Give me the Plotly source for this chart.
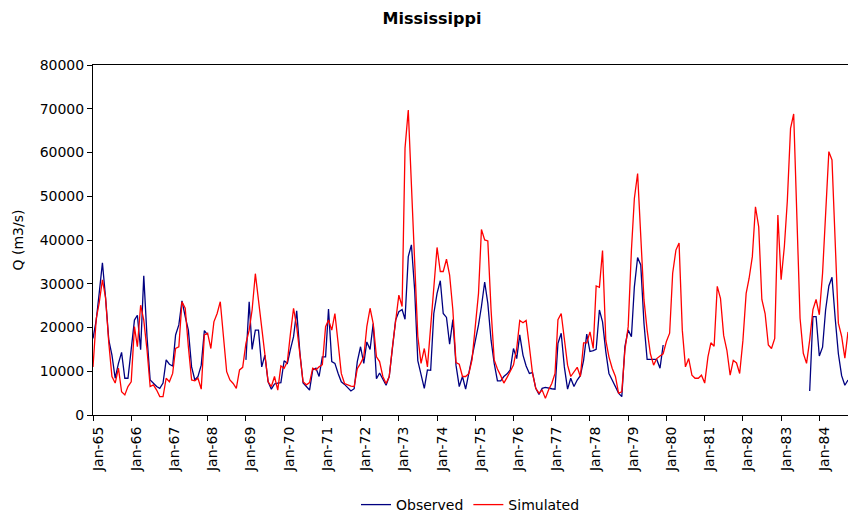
import pandas as pd
import plotly.graph_objects as go

# Monthly discharge of the Mississippi, Jan 1965 onwards (m3/s)
start_month = "1965-01-01"

simulated = [
    11000, 22000, 25600, 30900, 26800, 16400, 8800, 7300, 10700, 5300, 4600, 6500,      # 1965
    7600, 20200, 15600, 25100, 21700, 14900, 6500, 6900, 5700, 4200, 4200, 8400,        # 1966
    7600, 9500, 15200, 15600, 25900, 24400, 15600, 8000, 7800, 8400, 5900, 18300,       # 1967
    18700, 15200, 21300, 23200, 25900, 17900, 9900, 8000, 7200, 6100, 10300, 10900,     # 1968
    16400, 19400, 24000, 32300, 26300, 19400, 12900, 7600, 6500, 8800, 5700, 11200,     # 1969
    10700, 12200, 18300, 24400, 20200, 14100, 7600, 6900, 7400, 10700, 10300, 11000,    # 1970
    11500, 20200, 21700, 19400, 23200, 16400, 9500, 7200, 6900, 6600, 6500, 10600,      # 1971
    11800, 13300, 20200, 24400, 20900, 13300, 12200, 8800, 7200, 8800, 15600, 22100,    # 1972
    27400, 24800, 61000, 69700, 52000, 35000, 18000, 11800, 15200, 11000, 20200, 28600, # 1973
    38300, 32800, 32800, 35600, 32000, 24000, 12000, 11600, 8800, 8800, 9500, 12600,    # 1974
    19400, 27800, 42400, 40000, 39800, 24000, 12600, 10500, 9000, 7300, 8600, 9900,     # 1975
    11400, 15200, 21600, 21100, 21600, 15600, 9500, 6100, 5000, 5700, 3800, 5700,       # 1976
    7200, 9500, 21800, 23200, 17100, 11400, 8800, 9900, 10900, 8800, 16500, 16500,      # 1977
    19000, 15200, 29500, 29200, 37600, 17100, 13300, 10700, 8800, 5000, 5300, 14900,    # 1978
    20200, 37700, 49500, 55200, 41500, 26300, 19400, 14000, 11400, 12900, 13500, 14000, # 1979
    16800, 18700, 32400, 37700, 39300, 19400, 11000, 12900, 9100, 8400, 8400, 9100,     # 1980
    7300, 13300, 16500, 15700, 29400, 26600, 18200, 14800, 9100, 12500, 11900, 9500,    # 1981
    17000, 27800, 31200, 36200, 47600, 43000, 26400, 23200, 16000, 15200, 17500, 45700, # 1982
    30900, 38500, 48800, 65500, 68800, 46900, 22100, 14100, 11800, 17100, 24100, 26400, # 1983
    22900, 32400, 46100, 60200, 58300, 39300, 21000, 18000, 13000, 19000,               # 1984
]

observed = [
    17500, 21700, 27800, 34800, 26800, 17100, 13700, 8400, 11800, 14300, 8400, 8400,    # 1965
    15000, 21700, 22800, 14900, 31800, 17900, 8000, 7300, 6500, 6100, 7300, 12600,      # 1966
    11600, 11200, 18300, 20600, 26100, 22500, 19400, 11000, 8000, 8800, 11400, 19300,   # 1967
    18300, None, None, None, None, None, None, None, None, None, None, None,            # 1968
    12600, 25900, 15000, 19400, 19400, 11000, 13700, 7600, 5900, 7100, 7300, 7400,      # 1969
    12400, 11800, 14900, 17900, 23800, 14100, 7300, 6500, 5700, 10300, 10700, 8800,     # 1970
    13300, 13300, 24200, 12200, 11800, 9500, 7600, 7000, 6200, 5500, 6000, 12200,       # 1971
    15600, 11800, 16700, 15000, 20900, 8300, 9600, 8300, 6800, 8800, 14900, 21700,      # 1972
    23600, 24100, 21900, 36200, 38900, 28600, 12400, 9200, 6100, 10300, 10200, 23200,   # 1973
    27800, 30700, 23200, 22300, 16200, 21800, 11400, 6500, 8800, 5900, 9500, 12600,     # 1974
    16400, 20600, 24800, 30400, 25500, 17100, 11800, 7800, 7800, 8800, 9400, 10300,     # 1975
    15200, 12900, 18300, 13700, 11200, 9500, 9700, 6100, 4700, 6100, 6300, 6100,        # 1976
    6000, 5900, 16400, 18700, 11000, 5900, 8400, 6500, 8000, 9000, 12500, 18500,        # 1977
    14500, 14700, 15000, 24000, 21300, 14500, 9500, 8000, 6500, 5000, 4200, 15700,      # 1978
    19400, 17900, 29300, 36000, 34300, 20900, 12700, 12700, 12600, 12700, 10700, 16000, # 1979
    None, None, None, None, None, None, None, None, None, None, None, None,             # 1980
    None, None, None, None, None, None, None, None, None, None, None, None,             # 1981
    None, None, None, None, None, None, None, None, None, None, None, None,             # 1982
    None, None, None, None, None, None, None, None, None, 5500, 22500, 22500,           # 1983
    13500, 15500, 24000, 29500, 31500, 22000, 14000, 9000, 6800, 8000,                 # 1984
]

y_ticks = list(range(0, 80001, 10000))

months = pd.date_range(start_month, periods=len(simulated), freq="MS")

FONT = "DejaVu Sans, Verdana, sans-serif"

fig = go.Figure()
fig.add_trace(go.Scatter(
    x=months, y=observed, name="Observed", mode="lines",
    line=dict(color="#000080", width=1.3), connectgaps=False,
))
fig.add_trace(go.Scatter(
    x=months, y=simulated, name="Simulated", mode="lines",
    line=dict(color="#FF0000", width=1.3),
))

fig.update_layout(
    width=848, height=516,
    margin=dict(l=93, r=0, t=65, b=101, autoexpand=False),
    paper_bgcolor="white", plot_bgcolor="white",
    font=dict(family=FONT, size=14, color="black"),
    title=dict(
        text="<b>Mississippi</b>", font=dict(size=16, family=FONT, color="black"),
        x=432 / 848, xref="container", xanchor="center",
        y=1 - 18 / 516, yref="container", yanchor="middle",
    ),
    showlegend=True,
    legend=dict(
        orientation="h", x=0.5, xanchor="center",
        y=1 - 505 / 516, yref="container", yanchor="middle",
        font=dict(size=14, family=FONT), bgcolor="rgba(0,0,0,0)",
    ),
)

fig.update_xaxes(
    type="date", range=[months[0], months[-1]],
    tick0=start_month, dtick="M12", tickformat="%b-%y", tickangle=-90,
    ticks="outside", ticklen=5, tickcolor="black", ticklabelshift=5,
    showline=True, linecolor="black", linewidth=1, mirror=True,
    showgrid=False, zeroline=False, automargin=False,
    tickfont=dict(size=14, family=FONT),
)
fig.update_yaxes(
    range=[0, 80000], tickvals=y_ticks, tickformat="d",
    ticks="outside", ticklen=5, tickcolor="black",
    showline=True, linecolor="black", linewidth=1,
    showgrid=False, zeroline=False, automargin=False,
    title=dict(text="Q (m3/s)", font=dict(size=14, family=FONT), standoff=12),
    tickfont=dict(size=14, family=FONT),
)

fig.write_html("out.html")
